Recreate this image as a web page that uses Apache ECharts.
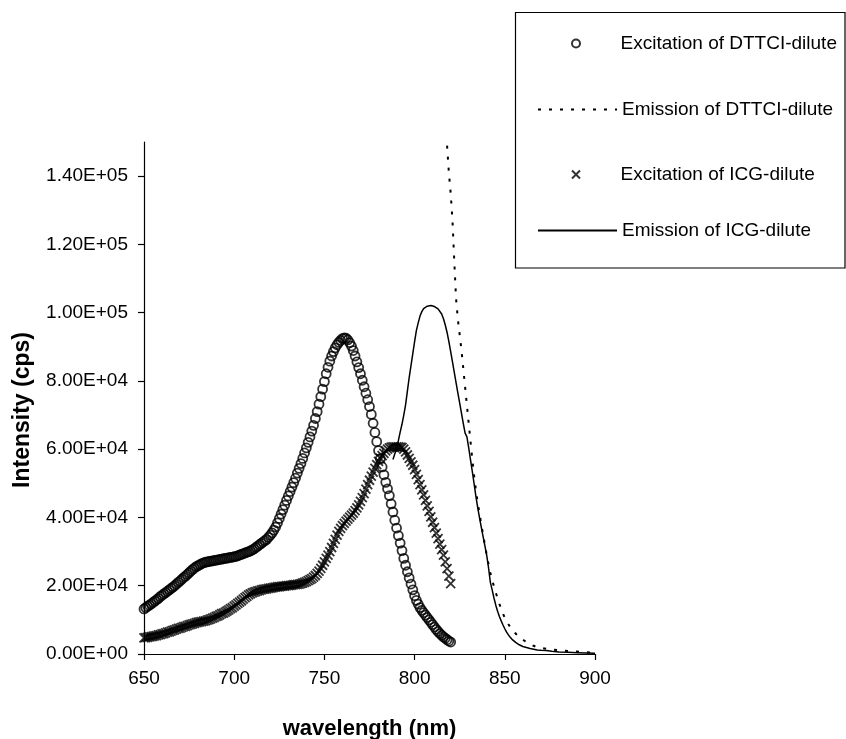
<!DOCTYPE html>
<html>
<head>
<meta charset="utf-8">
<script src="https://cdn.jsdelivr.net/npm/echarts@6/dist/echarts.min.js"></script>
<style>
html, body { margin: 0; padding: 0; background: #fff; }
#chart { width: 846px; height: 739px; }
</style>
</head>
<body>
<div id="chart"></div>
<script>
// excitation spectra, sampled every 1 nm from 650 nm
const excStart = 650
const excDttci = [
    13200, 13600, 14000, 14300, 14700, 15100, 15500, 15900, 16300, 16800,
    17200, 17600, 18000, 18400, 18800, 19200, 19600, 20000, 20500, 21000,
    21400, 21900, 22400, 22800, 23300, 23800, 24300, 24800, 25200, 25600,
    25900, 26200, 26500, 26700, 26900, 27000, 27100, 27200, 27300, 27400,
    27500, 27600, 27700, 27800, 27900, 28000, 28100, 28200, 28300, 28400,
    28500, 28600, 28800, 29000, 29200, 29400, 29600, 29800, 30000, 30200,
    30500, 30800, 31200, 31600, 32000, 32400, 32800, 33200, 33600, 34200,
    34800, 35500, 36300, 37200, 38400, 39700, 41000, 42300, 43600, 45000,
    46300, 47600, 48900, 50200, 51500, 53000, 54400, 55800, 57300, 58900,
    60400, 62000, 63600, 65300, 67000, 69000, 71000, 73200, 75400, 77600,
    79800, 82100, 84000, 85800, 87300, 88600, 89700, 90600, 91300, 91900,
    92400, 92600, 92500, 92000, 91200, 90200, 88900, 87300, 85600, 83900,
    82100, 80200, 78300, 76400, 74500, 72500, 70200, 67600, 64900, 62200,
    59600, 57200, 54800, 52500, 50300, 48400, 46400, 44000, 41600, 39200,
    36900, 34700, 32500, 30300, 28000, 26000, 24100, 22300, 20500, 18800,
    17100, 15700, 14600, 13600, 12800, 12100, 11400, 10700, 10000, 9300,
    8600, 7900, 7200, 6600, 6000, 5500, 5000, 4600, 4200, 3800,
    3500
]
const excIcg = [
    4700, 4800, 4900, 5000, 5100, 5200, 5300, 5400, 5600, 5700,
    5900, 6000, 6200, 6400, 6500, 6700, 6900, 7100, 7300, 7500,
    7600, 7800, 8000, 8100, 8300, 8500, 8700, 8800, 9000, 9200,
    9300, 9400, 9500, 9600, 9700, 9900, 10100, 10300, 10500, 10700,
    11000, 11200, 11500, 11800, 12000, 12300, 12600, 12900, 13300, 13600,
    14000, 14400, 14800, 15200, 15600, 16100, 16500, 16900, 17300, 17600,
    17900, 18100, 18300, 18500, 18600, 18800, 18900, 19000, 19100, 19200,
    19300, 19400, 19500, 19600, 19700, 19700, 19800, 19900, 19900, 20000,
    20000, 20100, 20200, 20300, 20300, 20400, 20500, 20600, 20800, 21000,
    21200, 21500, 21800, 22100, 22500, 23000, 23600, 24300, 25100, 26000,
    27000, 28000, 29000, 30000, 31200, 32400, 33600, 34800, 35900, 36800,
    37600, 38300, 38900, 39500, 40100, 40700, 41300, 42000, 42800, 43700,
    44700, 45800, 47000, 48300, 49600, 50900, 52100, 53300, 54400, 55500,
    56400, 57300, 58100, 58800, 59500, 60000, 60400, 60600, 60700, 60700,
    60700, 60700, 60600, 60500, 60000, 59200, 58300, 57300, 56300, 55300,
    54000, 52600, 51100, 49600, 48100, 46600, 45000, 43400, 41800, 40200,
    38600, 37000, 35400, 33800, 32200, 30600, 29000, 27000, 25000, 22800,
    20600
]

// emission spectra
const emDttciWl = [
    816, 817, 818, 819, 820, 821, 822, 823, 824, 825,
    826, 827, 828, 829, 830, 831, 832, 833, 834, 835,
    836, 837, 838, 839, 840, 841, 842, 843, 844, 845,
    846, 847, 848, 849, 850, 851, 852, 853, 854, 855,
    856, 857, 858, 860, 862, 864, 866, 868, 870, 873,
    876, 880, 885, 890, 895, 900
]
const emDttci = [
    165000, 156000, 149000, 141000, 135000, 127000, 115000, 104000, 98000, 93500,
    88900, 83600, 78200, 72800, 67500, 62200, 57000, 52200, 47900, 44300,
    41000, 37900, 34900, 31900, 29000, 26300, 23800, 21600, 19800, 18000,
    16300, 14700, 13200, 11800, 10600, 9600, 8700, 7900, 7200, 6600,
    6000, 5400, 4900, 4200, 3500, 2900, 2400, 2000, 1800, 1500,
    1300, 1100, 900, 700, 500, 300
]
const emIcgWl = [
    788, 789, 790, 791, 792, 793, 794, 795, 796, 797,
    798, 799, 800, 801, 802, 803, 804, 805, 806, 807,
    808, 809, 810, 811, 812, 813, 814, 815, 816, 817,
    818, 819, 820, 821, 822, 823, 824, 825, 826, 827,
    828, 829, 830, 831, 832, 833, 834, 835, 836, 837,
    838, 839, 840, 841, 842, 843, 844, 845, 846, 847,
    848, 849, 850, 851, 852, 853, 854, 855, 856, 857,
    858, 859, 860, 862, 864, 866, 868, 870, 873, 876,
    880, 885, 890, 895, 900
]
const emIcg = [
    57000, 58600, 60200, 62500, 65000, 67300, 70000, 73000, 77000, 81000,
    84500, 88000, 91500, 94800, 97000, 99000, 100300, 101200, 101700, 101900,
    102000, 102100, 102000, 101800, 101500, 101100, 100600, 99600, 98200, 96400,
    94200, 91500, 88600, 85600, 82500, 79400, 76400, 73500, 70500, 67500,
    64700, 63600, 60400, 56900, 53400, 49800, 46100, 42800, 39900, 37000,
    34300, 31600, 28800, 25200, 21000, 18800, 16400, 14300, 12500, 11000,
    9700, 8500, 7400, 6400, 5600, 4900, 4300, 3800, 3400, 3000,
    2700, 2400, 2200, 1900, 1600, 1400, 1200, 1100, 1000, 800,
    600, 500, 400, 300, 200
]

const xTicks = [650, 700, 750, 800, 850, 900]
const yTicks = [0, 20000, 40000, 60000, 80000, 100000, 120000, 140000]

const seriesNames = [
    'Excitation of DTTCI-dilute',
    'Emission of DTTCI-dilute',
    'Excitation of ICG-dilute',
    'Emission of ICG-dilute'
]

const FONT = '"Liberation Sans", Arial, sans-serif'

function sciLabel(v) {
    if (v === 0) {
        return '0.00E+00'
    }
    let e = Math.floor(Math.log10(v))
    let m = v / Math.pow(10, e)
    return m.toFixed(2) + 'E+' + String(e).padStart(2, '0')
}

function pairs(xs, ys) {
    return ys.map((y, i) => [xs[i], y])
}

function stepped(start, ys) {
    return ys.map((y, i) => [start + i, y])
}

// legend rows: centre line y, and whether the key is a marker or a line
const legendRows = [43, 109, 174, 230]
const legendIsLine = [false, true, false, true]

let chart = echarts.init(document.getElementById('chart'), null, { renderer: 'canvas' })

chart.setOption({
    animation: false,
    backgroundColor: '#fff',
    textStyle: { fontFamily: FONT },
    grid: {
        left: 144,
        right: 251,
        top: 142,
        bottom: 85,
        outerBoundsMode: 'none'
    },
    legend: seriesNames.map((name, i) => {
        let lg = {
            data: [name],
            left: legendIsLine[i] ? 537 : 571,
            top: legendRows[i] - 9,
            padding: 0,
            itemWidth: 79,
            itemHeight: 8,
            itemGap: 5,
            selectedMode: false,
            textStyle: { fontSize: 19, color: '#000', fontFamily: FONT }
        }
        if (legendIsLine[i]) {
            lg.itemStyle = { color: 'rgba(0,0,0,0)', borderColor: 'rgba(0,0,0,0)', borderWidth: 0 }
        }
        return lg
    }),
    graphic: [{
        type: 'rect',
        shape: { x: 515.5, y: 12.5, width: 329.5, height: 255.5 },
        style: { fill: 'none', stroke: '#000', lineWidth: 1.2 },
        silent: true
    }],
    xAxis: {
        type: 'value',
        min: 650,
        max: 900,
        interval: 50,
        name: 'wavelength (nm)',
        nameLocation: 'middle',
        nameGap: 64,
        nameTextStyle: { fontSize: 22, fontWeight: 'bold', color: '#000', fontFamily: FONT },
        axisLine: { lineStyle: { color: '#000', width: 1.2 } },
        axisTick: { length: 6, lineStyle: { color: '#000', width: 1.2 }, customValues: xTicks },
        axisLabel: { fontSize: 19, color: '#000', margin: 15, customValues: xTicks },
        splitLine: { show: false }
    },
    yAxis: {
        type: 'value',
        min: 0,
        max: 150000,
        interval: 20000,
        name: 'Intensity (cps)',
        nameLocation: 'middle',
        nameGap: 110,
        nameTextStyle: { fontSize: 23, fontWeight: 'bold', color: '#000', fontFamily: FONT, padding: [0, 24, 0, 0] },
        axisLine: { lineStyle: { color: '#000', width: 1.2 } },
        axisTick: { length: 6, lineStyle: { color: '#000', width: 1.2 }, customValues: yTicks },
        axisLabel: { fontSize: 19, color: '#000', margin: 16, customValues: yTicks, formatter: sciLabel },
        splitLine: { show: false }
    },
    series: [
        {
            name: seriesNames[0],
            type: 'scatter',
            data: stepped(excStart, excDttci),
            symbol: 'circle',
            symbolSize: 9,
            itemStyle: { color: 'rgba(0,0,0,0)', borderColor: '#000', borderWidth: 1.8 }
        },
        {
            name: seriesNames[2],
            type: 'scatter',
            data: stepped(excStart, excIcg),
            symbol: 'path://M0,0L10,10M10,0L0,10',
            symbolSize: 9,
            itemStyle: { color: 'rgba(0,0,0,0)', borderColor: '#000', borderWidth: 1.8 }
        },
        {
            name: seriesNames[1],
            type: 'line',
            data: pairs(emDttciWl, emDttci),
            symbol: 'none',
            showSymbol: false,
            clip: true,
            lineStyle: { color: '#000', width: 2, type: [3, 8] },
            itemStyle: { color: '#000' }
        },
        {
            name: seriesNames[3],
            type: 'line',
            data: pairs(emIcgWl, emIcg),
            symbol: 'none',
            showSymbol: false,
            clip: true,
            lineStyle: { color: '#000', width: 1.5 },
            itemStyle: { color: '#000' }
        }
    ]
})
</script>
</body>
</html>
